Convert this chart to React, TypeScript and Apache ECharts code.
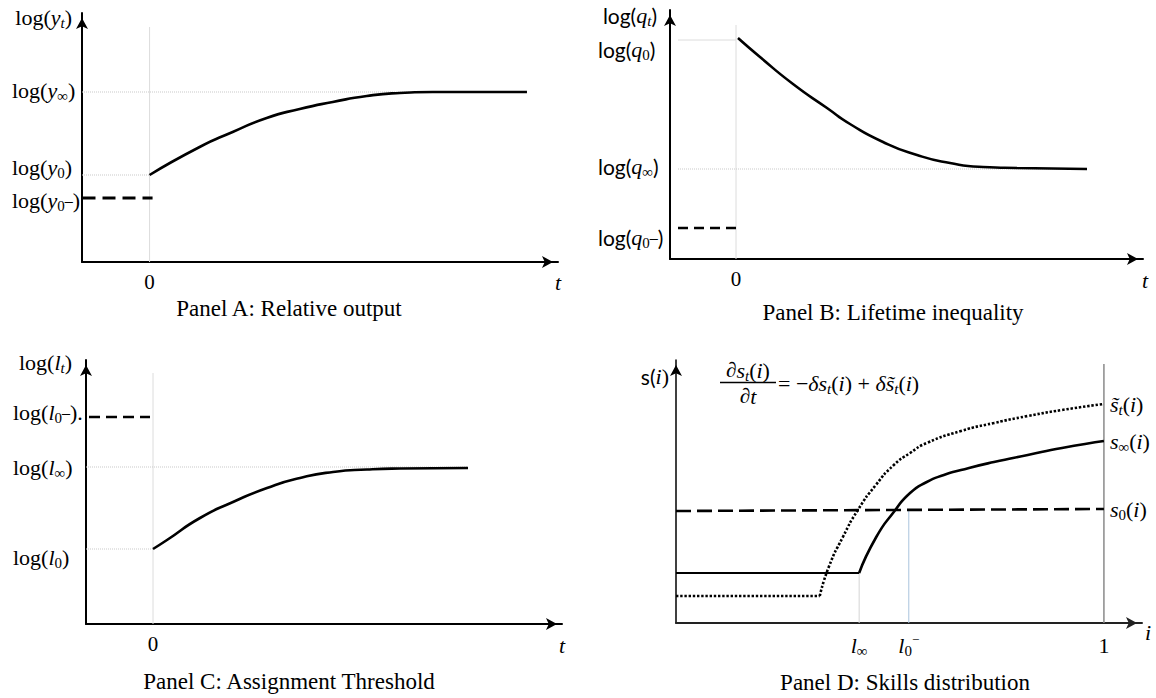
import React, { useEffect, useRef } from "react";
import * as echarts from "echarts";

const SERIF = '"Liberation Serif", "DejaVu Serif", serif';
const SANS = 'Lato, "Liberation Sans", sans-serif';

// ---------- Panel A: Relative output (t in tenths, log levels in arbitrary units) ----------
const A_X_RANGE = [-6.75, 40.8];
const A_Y_MAX = 24.9;
const A_T = [0, 5.0, 8.3, 11.7, 15.0, 18.3, 21.7, 25.0, 28.3, 31.7, 37.7];
const A_Y = [8.7, 11.5, 13.0, 14.4, 15.3, 16.0, 16.6, 16.9, 17.0, 17.0, 17.0];
const A_LEVELS = [17.0, 8.7, 6.4]; // log(y∞), log(y0), log(y0-)
const A_LEVEL_TEXT = [
  "{n|log(}{v|y}{sn|∞}{n|)}",
  "{n|log(}{v|y}{sn|0}{n|)}",
  "{n|log(}{v|y}{sn|0}{mn|–}{n|)}",
];
const A_LEVEL_SHIFT = [-2, -8, 2];
const A_PRE_T = [-6.7, 0.3];
const A_ZERO_TOP = 23.5;

// ---------- Panel B: Lifetime inequality ----------
const B_X_RANGE = [-6.6, 40.7];
const B_Y_MAX = 24.9;
const B_T = [0.2, 2.4, 5.7, 9.1, 11.4, 14.7, 18.1, 21.4, 24.7, 28.1, 35.1];
const B_Q = [22.1, 20.2, 17.5, 15.1, 13.5, 11.7, 10.4, 9.6, 9.2, 9.1, 9.0];
const B_LEVELS = [21.9, 9.0, 3.1]; // log(q0), log(q∞), log(q0-)
const B_LEVEL_TEXT = [
  "{ns|log(}{v|q}{sn|0}{ns|)}",
  "{ns|log(}{v|q}{sn|∞}{ns|)}",
  "{ns|log(}{v|q}{sn|0}{mn|–}{ns|)}",
];
const B_LEVEL_SHIFT = [9, -3, 9];
const B_PRE_T = [-5.8, 0.1];
const B_ZERO_TOP = 23.4;

// ---------- Panel C: Assignment Threshold ----------
const C_X_RANGE = [-6.7, 40.9];
const C_Y_MAX = 26.4;
const C_T = [0, 1.4, 4.7, 8.0, 11.4, 14.7, 18.0, 21.4, 24.7, 31.5];
const C_L = [7.5, 8.4, 10.6, 12.2, 13.6, 14.6, 15.2, 15.45, 15.55, 15.6];
const C_LEVELS = [20.7, 15.7, 7.5]; // log(l0-), log(l∞), log(l0)
const C_LEVEL_TEXT = [
  "{n|log(}{v|l}{sn|0}{mn|–}{n|).}",
  "{n|log(}{v|l}{sn|∞}{n|)}",
  "{n|log(}{v|l}{sn|0}{n|)}",
];
const C_LEVEL_SHIFT = [-5, 0, 8];
const C_PRE_T = [-6.4, -0.3];
const C_ZERO_TOP = 25.1;

// ---------- Panel D: Skills distribution ----------
const D_X_MAX = 1.089;
const D_Y_MAX = 26.3;
const D_L_INF = 0.428;
const D_L0M = 0.544;
const D_TICKS = [D_L_INF, D_L0M, 1];
const D_TICK_TEXT = ["{v|l}{sn|∞}", "{v|l}{sn|0}{sup|−}", "{n|1}"];
const D_S0_I = [0, 1];
const D_S0 = [11.2, 11.4];
const D_SOLID_FLAT = 5.0;
const D_I_SOLID = [0.428, 0.468, 0.509, 0.547, 0.586, 0.626, 0.666, 0.743, 0.822, 0.902, 1.0];
const D_S_SOLID = [5.0, 8.6, 11.1, 13.0, 14.1, 14.8, 15.3, 16.1, 16.8, 17.5, 18.2];
const D_DOT_FLAT = 2.7;
const D_I_DOT = [0.336, 0.357, 0.39, 0.425, 0.467, 0.509, 0.547, 0.586, 0.666, 0.743, 0.822, 0.902, 1.0];
const D_S_DOT = [2.7, 5.6, 8.6, 11.3, 13.8, 15.8, 17.0, 18.0, 19.2, 20.0, 20.7, 21.3, 21.9];
const D_ONE_TOP = 25.9;
const D_END_TEXT = {
  dot: "{v|s̃}{sb|t}{n|(}{v|i}{n|)}",
  solid: "{v|s}{sn|∞}{n|(}{v|i}{n|)}",
  dash: "{v|s}{sn|0}{n|(}{v|i}{n|)}",
};

const TITLES = [
  "Panel A: Relative output",
  "Panel B: Lifetime inequality",
  "Panel C: Assignment Threshold",
  "Panel D: Skills distribution",
];

// rich text styles: every token sits on a fixed line; vertical offsets come from padding
const BASE_STYLES: Record<string, { font: any; dy: number }> = {
  n: { font: { fontFamily: SERIF, fontSize: 22 }, dy: 0 },
  ns: { font: { fontFamily: SANS, fontSize: 21 }, dy: 0 },
  v: { font: { fontFamily: SERIF, fontStyle: "italic", fontSize: 22 }, dy: 0 },
  d: { font: { fontFamily: SERIF, fontStyle: "italic", fontSize: 21 }, dy: 0 },
  sb: { font: { fontFamily: SERIF, fontStyle: "italic", fontSize: 15 }, dy: 6 },
  sn: { font: { fontFamily: SERIF, fontSize: 15 }, dy: 6 },
  mn: { font: { fontFamily: SERIF, fontSize: 16 }, dy: 0 },
  sup: { font: { fontFamily: SERIF, fontSize: 13 }, dy: -6 },
};
const SHIFTS = [0, -8, -5, -3, -2, 2, 8, 9];
const suffixOf = (d: number) => (d === 0 ? "" : d < 0 ? "m" + -d : "p" + d);
const RICH: any = {};
SHIFTS.forEach((d) => {
  Object.keys(BASE_STYLES).forEach((k) => {
    const b = BASE_STYLES[k];
    const tot = b.dy + d;
    RICH[k + suffixOf(d)] = {
      ...b.font,
      color: "#000",
      lineHeight: 16,
      verticalAlign: "middle",
      padding: tot >= 0 ? [2 * tot, 0, 0, 0] : [0, 0, -2 * tot, 0],
    };
  });
});
const shifted = (txt: string, d: number) => txt.replace(/\{(\w+)\|/g, (_m, s) => `{${s}${suffixOf(d)}|`);

function pickLabel(levels: number[], texts: string[], shifts: number[]) {
  return (v: number) => {
    const i = levels.findIndex((l) => Math.abs(l - v) < 1e-6);
    return i < 0 ? "" : shifted(texts[i], shifts[i]);
  };
}
const zip = (xs: number[], ys: number[]) => xs.map((x, i) => [x, ys[i]]);

function seg(gi: number, data: number[][], color: string, width: number, type: any, extra: any = {}) {
  return {
    type: "line",
    xAxisIndex: gi,
    yAxisIndex: gi,
    data,
    symbol: "none",
    silent: true,
    lineStyle: { color, width, type, cap: "butt" },
    z: 3,
    ...extra,
  };
}

const GRID_LINE = "#c9c9c9";
const ZERO_LINE = "#dcdcdc";
const SMOOTH = { smooth: 0.6 };

function axisLine(width = 2, color = "#000") {
  return {
    show: true,
    onZero: false,
    symbol: ["none", "arrow"],
    symbolSize: [9, 11],
    symbolOffset: [0, -5],
    lineStyle: { color, width },
  };
}

function xAxisT(gi: number, range: number[], namePad: number[]) {
  return {
    type: "value",
    gridIndex: gi,
    min: range[0],
    max: range[1],
    splitLine: { show: false },
    axisTick: { show: false },
    axisLine: axisLine(2),
    axisLabel: {
      customValues: [0],
      formatter: () => "0",
      fontFamily: SERIF,
      fontSize: 21,
      color: "#000",
      margin: 9,
      showMinLabel: true,
      showMaxLabel: true,
    },
    name: "{v|t}",
    nameLocation: "end",
    nameGap: 0,
    nameMoveOverlap: false,
    nameTextStyle: { align: "center", verticalAlign: "middle", padding: namePad, rich: RICH },
  };
}

function yAxisLog(
  gi: number,
  max: number,
  levels: number[],
  texts: string[],
  shifts: number[],
  show: number[],
  margin: number,
  name: string | null,
  nameGap = 0,
  namePadRight = 0
) {
  const ax: any = {
    type: "value",
    gridIndex: gi,
    position: "left",
    offset: 0,
    min: 0,
    max,
    splitLine: { show: false },
    axisTick: { show: false },
    axisLine: name ? axisLine(2) : { show: false, onZero: false },
    axisLabel: {
      customValues: show.map((i) => levels[i]),
      formatter: pickLabel(levels, texts, shifts),
      align: "left",
      margin,
      rich: RICH,
      color: "#000",
      showMinLabel: true,
      showMaxLabel: true,
      hideOverlap: false,
    },
  };
  if (name) {
    ax.name = name;
    ax.nameLocation = "end";
    ax.nameGap = nameGap;
    ax.nameMoveOverlap = false;
    ax.nameTextStyle = { align: "right", verticalAlign: "middle", padding: [0, namePadRight, 0, 0], rich: RICH };
  }
  return ax;
}

function buildOption(): any {
  const series: any[] = [
    // Panel A
    seg(0, [[0, 0], [0, A_ZERO_TOP]], ZERO_LINE, 1, "solid", { z: 1 }),
    seg(0, [[A_X_RANGE[0], A_LEVELS[0]], [A_T[A_T.length - 1], A_LEVELS[0]]], GRID_LINE, 1, "dotted", { z: 1 }),
    seg(0, [[A_X_RANGE[0], A_LEVELS[1]], [0, A_LEVELS[1]]], GRID_LINE, 1, "dotted", { z: 1 }),
    seg(0, [[A_PRE_T[0], A_LEVELS[2]], [A_PRE_T[1], A_LEVELS[2]]], "#000", 3, [13, 7]),
    seg(0, zip(A_T, A_Y), "#000", 2.6, "solid", SMOOTH),
    // Panel B
    seg(1, [[0, 0], [0, B_ZERO_TOP]], ZERO_LINE, 1, "solid", { z: 1 }),
    seg(1, [[B_PRE_T[0], B_LEVELS[0]], [0, B_LEVELS[0]]], ZERO_LINE, 1, "solid", { z: 1 }),
    seg(1, [[B_PRE_T[0], B_LEVELS[1]], [B_T[B_T.length - 1], B_LEVELS[1]]], GRID_LINE, 1, "dotted", { z: 1 }),
    seg(1, [[B_PRE_T[0], B_LEVELS[2]], [B_PRE_T[1], B_LEVELS[2]]], "#000", 2.6, [10, 6]),
    seg(1, zip(B_T, B_Q), "#000", 2.6, "solid", SMOOTH),
    // Panel C
    seg(2, [[0, 0], [0, C_ZERO_TOP]], ZERO_LINE, 1, "solid", { z: 1 }),
    seg(2, [[C_X_RANGE[0], C_LEVELS[1]], [C_T[C_T.length - 1], C_LEVELS[1]]], GRID_LINE, 1, "dotted", { z: 1 }),
    seg(2, [[C_X_RANGE[0], C_LEVELS[2]], [0, C_LEVELS[2]]], GRID_LINE, 1, "dotted", { z: 1 }),
    seg(2, [[C_PRE_T[0], C_LEVELS[0]], [C_PRE_T[1], C_LEVELS[0]]], "#000", 2.6, [11, 6]),
    seg(2, zip(C_T, C_L), "#000", 2.6, "solid", SMOOTH),
    // Panel D
    seg(3, [[D_L_INF, 0], [D_L_INF, D_SOLID_FLAT]], "#d4d4d4", 1, "solid", { z: 1 }),
    seg(3, [[D_L0M, 0], [D_L0M, D_S0[0] + (D_S0[1] - D_S0[0]) * D_L0M]], "#a9c3dd", 1, "solid", { z: 1 }),
    seg(3, [[1, 0], [1, D_ONE_TOP]], "#8a8a8a", 1.5, "solid", { z: 1 }),
    seg(3, zip(D_S0_I, D_S0), "#000", 2.6, [15, 6], {
      endLabel: { show: true, formatter: () => D_END_TEXT.dash, rich: RICH, distance: 6 },
    }),
    seg(3, [[0, D_SOLID_FLAT], [D_L_INF, D_SOLID_FLAT]], "#000", 2.2, "solid"),
    seg(3, zip(D_I_SOLID, D_S_SOLID), "#000", 2.6, "solid", {
      ...SMOOTH,
      endLabel: { show: true, formatter: () => D_END_TEXT.solid, rich: RICH, distance: 6 },
    }),
    seg(3, [[0, D_DOT_FLAT], [D_I_DOT[0], D_DOT_FLAT]], "#000", 2.6, [2.4, 1.8]),
    seg(3, zip(D_I_DOT, D_S_DOT), "#000", 2.6, [2.4, 1.8], {
      ...SMOOTH,
      endLabel: { show: true, formatter: () => D_END_TEXT.dot, rich: RICH, distance: 6 },
    }),
  ];

  const titleText = (text: string, x: number, y: number) => ({
    type: "text",
    x,
    y,
    style: {
      text,
      fontFamily: SERIF,
      fontSize: 23,
      fill: "#000",
      align: "center",
      verticalAlign: "middle",
      textAlign: "center",
      textVerticalAlign: "middle",
    },
  });

  const eqText = (text: string, x: number, y: number, align: string) => ({
    type: "text",
    x,
    y,
    style: { text, rich: RICH, align, verticalAlign: "middle", textAlign: align, textVerticalAlign: "middle" },
  });

  const grid = (left: number, top: number, width: number, height: number) => ({
    left,
    top,
    width,
    height,
    containLabel: false,
    outerBoundsMode: "none",
  });

  return {
    animation: false,
    backgroundColor: "#fff",
    textStyle: { fontFamily: SERIF },
    grid: [grid(82, 13, 476, 249), grid(670, 10, 473, 249), grid(86, 360, 476, 264), grid(676, 360, 466, 263)],
    xAxis: [
      xAxisT(0, A_X_RANGE, [40, 0, 0, 0]),
      xAxisT(1, B_X_RANGE, [42, 0, 0, 4]),
      xAxisT(2, C_X_RANGE, [42, 0, 0, 0]),
      {
        type: "value",
        gridIndex: 3,
        min: 0,
        max: D_X_MAX,
        splitLine: { show: false },
        axisTick: { show: false },
        axisLine: axisLine(2, "#222"),
        axisLabel: {
          customValues: D_TICKS,
          formatter: (v: number) => {
            const i = D_TICKS.findIndex((t) => Math.abs(t - v) < 1e-6);
            return i < 0 ? "" : D_TICK_TEXT[i];
          },
          rich: RICH,
          margin: 14,
          color: "#000",
          showMinLabel: true,
          showMaxLabel: true,
        },
        name: "{v|i}",
        nameLocation: "end",
        nameGap: 0,
        nameMoveOverlap: false,
        nameTextStyle: { align: "left", verticalAlign: "middle", padding: [18, 0, 0, 3], rich: RICH },
      },
    ],
    yAxis: [
      yAxisLog(0, A_Y_MAX, A_LEVELS, A_LEVEL_TEXT, A_LEVEL_SHIFT, [0, 2], 70, "{n|log(}{v|y}{sb|t}{n|)}", -4, 10),
      yAxisLog(1, B_Y_MAX, B_LEVELS, B_LEVEL_TEXT, B_LEVEL_SHIFT, [0, 1, 2], 72, "{ns|log(}{v|q}{sb|t}{ns|)}", -5, 13),
      yAxisLog(2, C_Y_MAX, C_LEVELS, C_LEVEL_TEXT, C_LEVEL_SHIFT, [0, 1, 2], 73, "{n|log(}{v|l}{sb|t}{n|)}", -2, 14),
      {
        type: "value",
        gridIndex: 3,
        position: "left",
        min: 0,
        max: D_Y_MAX,
        splitLine: { show: false },
        axisTick: { show: false },
        axisLabel: { show: false },
        axisLine: axisLine(1.5),
        name: "{ns|s(}{v|i}{n|)}",
        nameLocation: "end",
        nameGap: -16,
        nameMoveOverlap: false,
        nameTextStyle: { align: "right", verticalAlign: "middle", padding: [0, 7, 0, 0], rich: RICH },
      },
      // second label axis for Panel A so the close log(y0) / log(y0-) labels do not collide
      yAxisLog(0, A_Y_MAX, A_LEVELS, A_LEVEL_TEXT, A_LEVEL_SHIFT, [1], 70, null),
    ],
    series,
    graphic: [
      titleText(TITLES[0], 289, 308),
      titleText(TITLES[1], 893, 312),
      titleText(TITLES[2], 289, 681),
      titleText(TITLES[3], 905, 682),
      eqText("{d|∂}{v|s}{sb|t}{n|(}{v|i}{n|)}", 748, 370, "center"),
      { type: "line", shape: { x1: 720, y1: 382.5, x2: 776, y2: 382.5 }, style: { stroke: "#000", lineWidth: 1.3 } },
      eqText("{d|∂}{v|t}", 748, 396, "center"),
      eqText("{n|= −}{v|δs}{sb|t}{n|(}{v|i}{n|) + }{v|δs̃}{sb|t}{n|(}{v|i}{n|)}", 778, 383, "left"),
    ],
  };
}

export default function App() {
  const ref = useRef<HTMLDivElement>(null);
  useEffect(() => {
    const chart = echarts.init(ref.current!, null, { renderer: "svg" });
    chart.setOption(buildOption());
    return () => chart.dispose();
  }, []);
  return (
    <div
      ref={ref}
      style={{ position: "fixed", left: 0, top: 0, width: 1156, height: 698, background: "#fff" }}
    />
  );
}
